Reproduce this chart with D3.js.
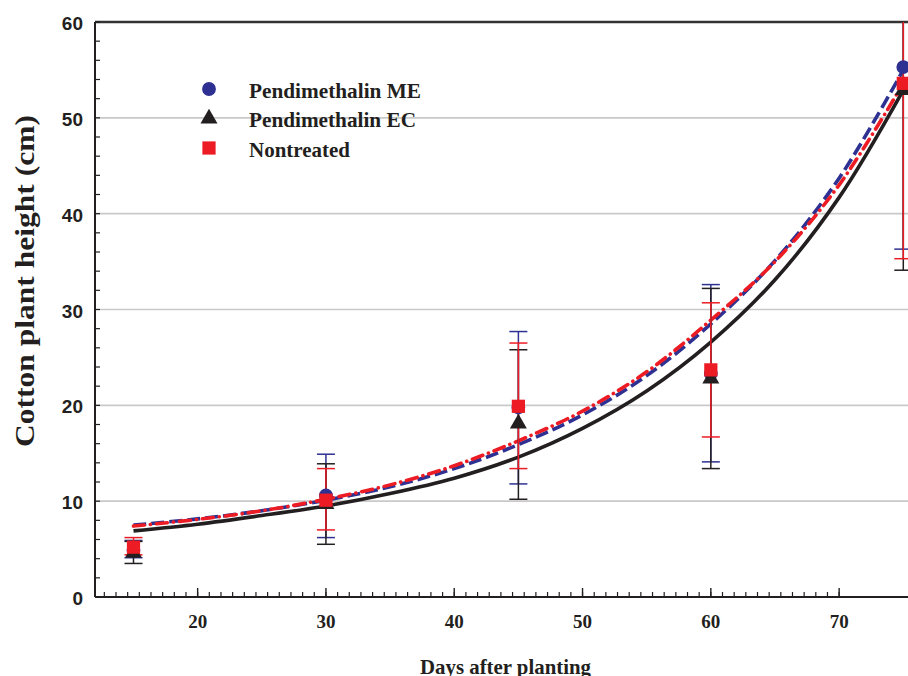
<!DOCTYPE html>
<html>
<head>
<meta charset="utf-8">
<script src="https://cdnjs.cloudflare.com/ajax/libs/d3/7.8.5/d3.min.js"></script>
<style>
  body { margin: 0; background: #fff; }
  svg { display: block; }
</style>
</head>
<body>
<svg id="chart" width="908" height="676"></svg>
<script>
// sampling days
var days = [15, 30, 45, 60, 75];

// means and error bar ends
var meMean = [4.9, 10.6, 19.8, 23.3, 55.3];
var meLow  = [4.1, 6.2, 11.8, 14.1, 36.3];
var meHigh = [5.9, 14.9, 27.7, 32.6, 74.3];

var ecMean = [4.6, 9.7, 18.1, 22.8, 52.9];
var ecLow  = [3.5, 5.5, 10.2, 13.4, 34.1];
var ecHigh = [5.8, 13.9, 25.8, 32.2, 71.7];

var ntMean = [5.2, 10.1, 19.9, 23.7, 53.6];
var ntLow  = [4.4, 7.0, 13.4, 16.7, 35.3];
var ntHigh = [6.2, 13.4, 26.5, 30.7, 71.9];

// fitted curves
var curveDays = [15, 20, 25, 30, 35, 40, 45, 50, 55, 60, 65, 70, 75];
var meFit = [7.5, 8.15, 9.0, 10.1, 11.5, 13.4, 15.9, 19.0, 23.1, 28.5, 35.1, 43.7, 55.0];
var ecFit = [6.9, 7.6, 8.5, 9.5, 10.8, 12.4, 14.6, 17.6, 21.5, 26.6, 33.1, 41.7, 52.9];
var ntFit = [7.4, 8.1, 9.0, 10.2, 11.7, 13.7, 16.3, 19.4, 23.5, 28.9, 35.0, 43.0, 53.6];

var xTicks = [20, 30, 40, 50, 60, 70];
var yTicks = [0, 10, 20, 30, 40, 50, 60];

var navy = "#2e3192", red = "#ed1c24", blk = "#231f20";
var serif = "'Liberation Serif', 'Times New Roman', serif";

var svg = d3.select("#chart");
var plotLeft = 95, plotTop = 22, plotBottom = 597;

var x = d3.scaleLinear().domain([12, 80]).range([plotLeft, plotLeft + 68 * 12.83]);
var y = d3.scaleLinear().domain([0, 60]).range([plotBottom, plotTop]);

svg.append("clipPath").attr("id", "plotclip")
  .append("rect")
  .attr("x", plotLeft).attr("y", plotTop)
  .attr("width", 908 - plotLeft).attr("height", plotBottom - plotTop);

// gridlines
svg.append("g").selectAll("line")
  .data([10, 20, 30, 40, 50])
  .join("line")
  .attr("x1", plotLeft).attr("x2", 908)
  .attr("y1", d => y(d)).attr("y2", d => y(d))
  .style("stroke", "#c9c9c9")
  .style("stroke-width", 1.6);

// frame: top line
svg.append("line")
  .attr("x1", plotLeft).attr("x2", 908)
  .attr("y1", plotTop).attr("y2", plotTop)
  .style("stroke", "#333")
  .style("stroke-width", 2.5);

// y axis
var yAxis = svg.append("g").attr("transform", "translate(" + plotLeft + ",0)");
yAxis.append("line")
  .attr("x1", 0).attr("x2", 0).attr("y1", plotTop).attr("y2", plotBottom)
  .style("stroke", blk).style("stroke-width", 2);
yAxis.selectAll(".ymin")
  .data(d3.range(0, 61, 2))
  .join("line")
  .attr("x1", 0).attr("x2", 5)
  .attr("y1", d => y(d)).attr("y2", d => y(d))
  .style("stroke", blk).style("stroke-width", 1.2);
yAxis.selectAll("text")
  .data(yTicks)
  .join("text")
  .attr("x", -12).attr("y", d => y(d) + 8)
  .attr("text-anchor", "end")
  .style("font-family", "'Liberation Sans', Arial, sans-serif")
  .style("font-weight", "bold")
  .style("font-size", "19px")
  .style("fill", "#231f20")
  .text(d => d);

// x axis
var xAxis = svg.append("g");
xAxis.append("line")
  .attr("x1", plotLeft).attr("x2", 908).attr("y1", plotBottom).attr("y2", plotBottom)
  .style("stroke", blk).style("stroke-width", 2);
var minor = d3.range(0, 64).map(i => 20 + (i - 8) * 10 / 11).filter(d => x(d) > plotLeft + 2 && x(d) < 908);
xAxis.selectAll(".xmin")
  .data(minor)
  .join("line")
  .attr("x1", d => x(d)).attr("x2", d => x(d))
  .attr("y1", plotBottom).attr("y2", plotBottom - 5)
  .style("stroke", blk).style("stroke-width", 1.2);
xAxis.selectAll(".xmaj")
  .data(xTicks)
  .join("line")
  .attr("x1", d => x(d)).attr("x2", d => x(d))
  .attr("y1", plotBottom).attr("y2", plotBottom - 9)
  .style("stroke", blk).style("stroke-width", 1.4);
xAxis.selectAll("text")
  .data(xTicks)
  .join("text")
  .attr("x", d => x(d)).attr("y", 628)
  .attr("text-anchor", "middle")
  .style("font-family", serif)
  .style("font-weight", "bold")
  .style("font-size", "19px")
  .style("fill", "#231f20")
  .text(d => d);

// axis titles
svg.append("text")
  .attr("x", 420).attr("y", 674)
  .attr("textLength", 171)
  .attr("lengthAdjust", "spacingAndGlyphs")
  .style("font-family", serif)
  .style("font-weight", "bold")
  .style("font-size", "21px")
  .style("fill", "#231f20")
  .text("Days after planting");

svg.append("text")
  .attr("transform", "translate(34,447) rotate(-90)")
  .attr("textLength", 332)
  .attr("lengthAdjust", "spacingAndGlyphs")
  .style("font-family", serif)
  .style("font-weight", "bold")
  .style("font-size", "28px")
  .style("fill", "#231f20")
  .text("Cotton plant height (cm)");

var plot = svg.append("g").attr("clip-path", "url(#plotclip)");

// fitted curves
var line = d3.line()
  .x(d => x(d[0]))
  .y(d => y(d[1]))
  .curve(d3.curveCatmullRom);

plot.append("path")
  .datum(d3.zip(curveDays, ecFit))
  .attr("d", line)
  .style("fill", "none")
  .style("stroke", blk)
  .style("stroke-width", 3.6);

plot.append("path")
  .datum(d3.zip(curveDays, meFit))
  .attr("d", line)
  .style("fill", "none")
  .style("stroke", navy)
  .style("stroke-width", 3.6)
  .style("stroke-dasharray", "13,5");

plot.append("path")
  .datum(d3.zip(curveDays, ntFit))
  .attr("d", line)
  .style("fill", "none")
  .style("stroke", red)
  .style("stroke-width", 3.6)
  .style("stroke-linecap", "round")
  .style("stroke-dasharray", "11,6,0.1,6");

// error bars
function errorBars(low, high, color) {
  var g = plot.append("g");
  var rows = d3.zip(days, low, high);
  g.selectAll(".stem")
    .data(rows)
    .join("line")
    .attr("x1", d => x(d[0])).attr("x2", d => x(d[0]))
    .attr("y1", d => y(d[1])).attr("y2", d => y(d[2]))
    .style("stroke", color).style("stroke-width", 1.5);
  g.selectAll(".lo")
    .data(rows)
    .join("line")
    .attr("x1", d => x(d[0]) - 9).attr("x2", d => x(d[0]) + 9)
    .attr("y1", d => y(d[1])).attr("y2", d => y(d[1]))
    .style("stroke", color).style("stroke-width", 1.5);
  g.selectAll(".hi")
    .data(rows)
    .join("line")
    .attr("x1", d => x(d[0]) - 9).attr("x2", d => x(d[0]) + 9)
    .attr("y1", d => y(d[2])).attr("y2", d => y(d[2]))
    .style("stroke", color).style("stroke-width", 1.5);
}
errorBars(meLow, meHigh, navy);
errorBars(ecLow, ecHigh, blk);
errorBars(ntLow, ntHigh, red);

// markers
var circle = d3.symbol().type(d3.symbolCircle).size(150);
var tri = d3.symbol().type(d3.symbolTriangle).size(125);
var sq = d3.symbol().type(d3.symbolSquare).size(175);

plot.append("g").selectAll("path")
  .data(d3.zip(days, meMean))
  .join("path")
  .attr("transform", d => "translate(" + x(d[0]) + "," + y(d[1]) + ")")
  .attr("d", circle)
  .style("fill", navy);

plot.append("g").selectAll("path")
  .data(d3.zip(days, ecMean))
  .join("path")
  .attr("transform", d => "translate(" + x(d[0]) + "," + y(d[1]) + ")")
  .attr("d", tri)
  .style("fill", blk);

plot.append("g").selectAll("path")
  .data(d3.zip(days, ntMean))
  .join("path")
  .attr("transform", d => "translate(" + x(d[0]) + "," + y(d[1]) + ")")
  .attr("d", sq)
  .style("fill", red);

// legend
var legendNames = ["Pendimethalin ME", "Pendimethalin EC", "Nontreated"];
var legendWidths = [172, 167, 101];
var legendSyms = [circle, tri, sq];
var legendCols = [navy, blk, red];
var legend = svg.append("g");
legendNames.forEach(function (name, i) {
  var ly = 89 + i * 29.5;
  legend.append("path")
    .attr("transform", "translate(209," + ly + ")")
    .attr("d", legendSyms[i])
    .style("fill", legendCols[i]);
  legend.append("text")
    .attr("x", 249).attr("y", ly + 8.5)
    .attr("textLength", legendWidths[i])
    .attr("lengthAdjust", "spacingAndGlyphs")
    .style("font-family", serif)
    .style("font-weight", "bold")
    .style("font-size", "22px")
    .style("fill", "#231f20")
    .text(name);
});
</script>
</body>
</html>
